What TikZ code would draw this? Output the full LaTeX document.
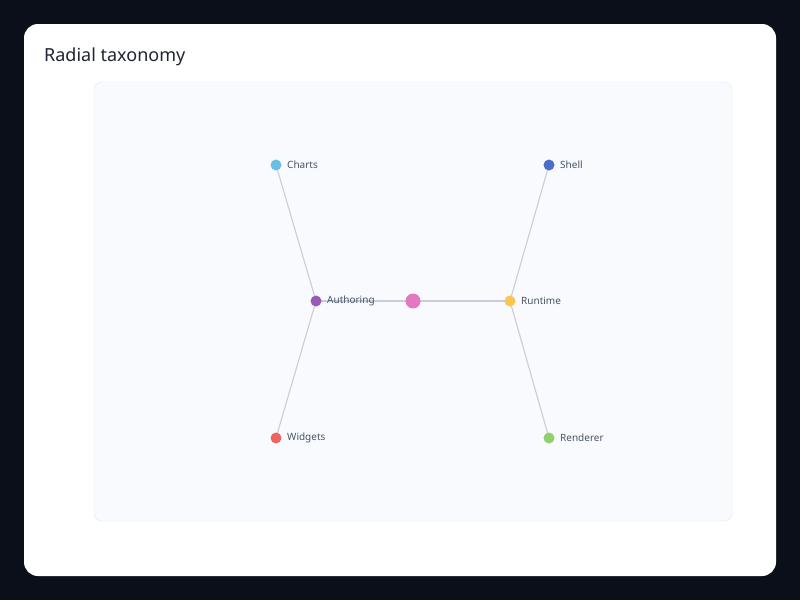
\documentclass[tikz,border=0pt]{standalone}
\usepackage{fontspec}
\setmainfont{Noto Sans}
\definecolor{bgdark}{HTML}{0B0F19}
\definecolor{panelfill}{HTML}{F8FAFD}
\definecolor{panelline}{HTML}{E2E8F0}
\definecolor{edgecol}{HTML}{C8CDD9}
\definecolor{titlecol}{HTML}{1E2433}
\definecolor{labelcol}{HTML}{4A5468}
\definecolor{cpink}{HTML}{E377C2}
\definecolor{cpurple}{HTML}{9B59B6}
\definecolor{cyellow}{HTML}{F9C74F}
\definecolor{cltblue}{HTML}{6BBFE0}
\definecolor{cblue}{HTML}{4C6CC8}
\definecolor{cred}{HTML}{EF6461}
\definecolor{cgreen}{HTML}{8FD16D}
\tikzset{
  dot/.style={circle, fill=#1, inner sep=0pt, minimum size=11pt},
  lbl/.style={anchor=west, text=labelcol, font=\fontsize{10}{12}\selectfont, inner sep=0pt},
  edge/.style={draw=edgecol, line width=1.1pt}
}
\begin{document}
\begin{tikzpicture}[x=1pt,y=-1pt]
                        \fill[bgdark] (0,0) rectangle (800,600);
                        \fill[white, rounded corners=14pt] (24,24) rectangle (776,576);
                        \draw[panelline, fill=panelfill, rounded corners=8pt] (94,82) rectangle (732,521);
                        \node[anchor=base west, text=titlecol, font=\fontsize{18}{22}\selectfont, inner sep=0pt] (title) at (44,61) {Radial taxonomy};
                        \coordinate (R) at (413,301);
                        \coordinate (A) at (316,301);
                        \coordinate (T) at (510,301);
                        \coordinate (C) at (276,165);
                        \coordinate (W) at (276,438);
                        \coordinate (S) at (549,165);
                        \coordinate (N) at (549,438);
                        \draw[edge] (C) -- (A) -- (W);
                        \draw[edge] (S) -- (T) -- (N);
                        \draw[edge] (A) -- (R) -- (T);
                        \node[dot=cpink, minimum size=15pt] (root) at (R) {};
                        \node[dot=cpurple] (auth) at (A) {};
                        \node[dot=cyellow] (run) at (T) {};
                        \node[dot=cltblue] (charts) at (C) {};
                        \node[dot=cred] (widg) at (W) {};
                        \node[dot=cblue] (shell) at (S) {};
                        \node[dot=cgreen] (rend) at (N) {};
                        \node[lbl] at ([xshift=11pt]A) {Authoring};
                        \node[lbl] at ([xshift=11pt]T) {Runtime};
                        \node[lbl] at ([xshift=11pt]C) {Charts};
                        \node[lbl] at ([xshift=11pt]W) {Widgets};
                        \node[lbl] at ([xshift=11pt]S) {Shell};
                        \node[lbl] at ([xshift=11pt]N) {Renderer};
                    \end{tikzpicture}
\end{document}
